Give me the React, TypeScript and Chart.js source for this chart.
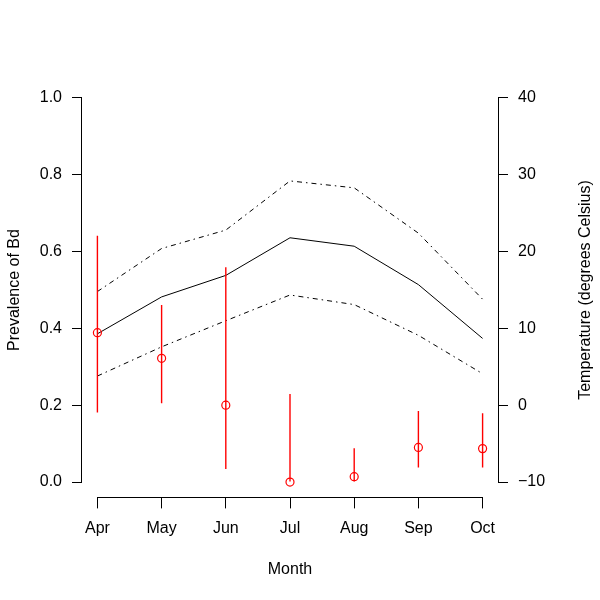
import React, { useEffect, useRef } from "react";
import { Chart, registerables } from "chart.js";
Chart.register(...registerables);

const months = ["Apr", "May", "Jun", "Jul", "Aug", "Sep", "Oct"];
const prevalence = [0.389, 0.322, 0.2, 0.0, 0.014, 0.09, 0.087];
const prevLower = [0.181, 0.205, 0.034, 0.0, 0.0, 0.038, 0.038];
const prevUpper = [0.641, 0.461, 0.559, 0.229, 0.088, 0.185, 0.179];
const tempMean = [9.3, 14.1, 16.9, 21.8, 20.7, 15.7, 8.7];
const tempUpper = [14.8, 20.4, 22.8, 29.2, 28.3, 22.4, 13.8];
const tempLower = [3.8, 7.6, 11.0, 14.35, 13.1, 9.1, 4.1];
const leftTicks = [0, 0.2, 0.4, 0.6, 0.8, 1.0];
const rightTicks = [-10, 0, 10, 20, 30, 40];

const FONT = '"Liberation Sans", Arial, Helvetica, sans-serif';

const axisLines = {
  id: "axisLines",
  afterDraw(chart: any) {
    const ctx = chart.ctx;
    const { x, y, y2 } = chart.scales;
    ctx.save();
    ctx.strokeStyle = "#000";
    ctx.lineWidth = 1;
    ctx.beginPath();
    const xl = x.getPixelForValue(0);
    const xr = x.getPixelForValue(months.length - 1);
    const xy = Math.round(x.top) + 0.5;
    ctx.moveTo(xl, xy);
    ctx.lineTo(xr, xy);
    const yx = Math.round(y.right) - 0.5;
    ctx.moveTo(yx, y.getPixelForValue(leftTicks[0]));
    ctx.lineTo(yx, y.getPixelForValue(leftTicks[leftTicks.length - 1]));
    const y2x = Math.round(y2.left) + 0.5;
    ctx.moveTo(y2x, y2.getPixelForValue(rightTicks[0]));
    ctx.lineTo(y2x, y2.getPixelForValue(rightTicks[rightTicks.length - 1]));
    ctx.stroke();

    const ca = chart.chartArea;
    ctx.translate(y2.right - 14, (ca.top + ca.bottom) / 2);
    ctx.rotate(-Math.PI / 2);
    ctx.font = "16px " + FONT;
    ctx.textAlign = "center";
    ctx.textBaseline = "middle";
    ctx.fillStyle = "#000";
    ctx.fillText("Temperature (degrees Celsius)", 0, 0);
    ctx.restore();
  },
};

export default function App() {
  const ref = useRef<HTMLCanvasElement | null>(null);
  useEffect(() => {
    if (!ref.current) return;
    Chart.defaults.font.family = FONT;
    Chart.defaults.color = "#000";
    const idx = months.map((_, i) => i);
    const dash = [5, 4, 1.5, 4];
    const chart = new Chart(ref.current, {
      type: "line",
      data: {
        datasets: [
          {
            type: "line",
            label: "Prevalence",
            data: idx.map((i) => ({ x: i, y: prevalence[i] })),
            showLine: false,
            pointRadius: 4,
            pointBorderWidth: 1.2,
            pointBorderColor: "#ff0000",
            pointBackgroundColor: "rgba(0,0,0,0)",
            yAxisID: "y",
          },
          {
            type: "bar",
            label: "CI",
            data: idx.map((i) => ({ x: i, y: [prevLower[i], prevUpper[i]] })) as any,
            backgroundColor: "#ff0000",
            borderWidth: 0,
            inflateAmount: 0,
            barThickness: 1.4,
            yAxisID: "y",
          },
          {
            type: "line",
            label: "Mean temp",
            data: idx.map((i) => ({ x: i, y: tempMean[i] })),
            borderColor: "#000",
            borderWidth: 1,
            pointRadius: 0,
            yAxisID: "y2",
          },
          {
            type: "line",
            label: "Upper temp",
            data: idx.map((i) => ({ x: i, y: tempUpper[i] })),
            borderColor: "#000",
            borderWidth: 1,
            borderDash: dash,
            pointRadius: 0,
            yAxisID: "y2",
          },
          {
            type: "line",
            label: "Lower temp",
            data: idx.map((i) => ({ x: i, y: tempLower[i] })),
            borderColor: "#000",
            borderWidth: 1,
            borderDash: dash,
            pointRadius: 0,
            yAxisID: "y2",
          },
        ],
      },
      options: {
        animation: false,
        responsive: false,
        devicePixelRatio: 1,
        layout: { padding: { top: 82.6, left: 0, right: 0, bottom: 0 } },
        plugins: { legend: { display: false }, tooltip: { enabled: false } },
        scales: {
          x: {
            type: "linear",
            min: -0.24,
            max: months.length - 1 + 0.24,
            offset: false,
            afterFit: (s: any) => {
              s.height = 102.6;
            },
            afterBuildTicks: (s: any) => {
              s.ticks = idx.map((v) => ({ value: v }));
            },
            ticks: {
              autoSkip: false,
              maxRotation: 0,
              padding: 11,
              font: { size: 16 },
              callback: (v: any) => months[Math.round(Number(v))] ?? "",
            },
            grid: { drawOnChartArea: false, drawTicks: true, tickLength: 11, color: "#000", offset: false },
            border: { display: false },
            title: { display: true, text: "Month", font: { size: 16 }, padding: { top: 0, bottom: 20.4 } },
          },
          y: {
            type: "linear",
            position: "left",
            min: -0.04,
            max: 1.04,
            afterFit: (s: any) => {
              s.width = 82;
            },
            afterBuildTicks: (s: any) => {
              s.ticks = leftTicks.map((v) => ({ value: v }));
            },
            ticks: {
              padding: 10,
              font: { size: 16 },
              callback: (v: any) => Number(v).toFixed(1),
            },
            grid: { drawOnChartArea: false, drawTicks: true, tickLength: 10, color: "#000" },
            border: { display: false },
            title: { display: true, text: "Prevalence of Bd", font: { size: 16 }, padding: { top: 5, bottom: 0 } },
          },
          y2: {
            type: "linear",
            position: "right",
            min: -12,
            max: 42,
            afterFit: (s: any) => {
              s.width = 102;
            },
            afterBuildTicks: (s: any) => {
              s.ticks = rightTicks.map((v) => ({ value: v }));
            },
            ticks: {
              padding: 10,
              font: { size: 16 },
              callback: (v: any) => {
                const n = Number(v);
                return n < 0 ? "\u2212" + Math.abs(n) : String(n);
              },
            },
            grid: { drawOnChartArea: false, drawTicks: true, tickLength: 10, color: "#000" },
            border: { display: false },
          },
        },
      },
      plugins: [axisLines],
    });
    return () => chart.destroy();
  }, []);
  return (
    <div style={{ position: "fixed", left: 0, top: 0, width: 600, height: 600, background: "#fff" }}>
      <canvas ref={ref} width={600} height={600} style={{ display: "block" }} />
    </div>
  );
}
